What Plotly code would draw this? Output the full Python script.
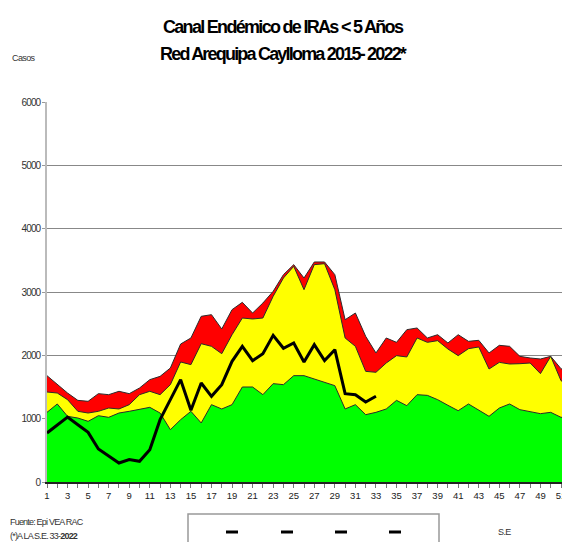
import plotly.graph_objects as go

weeks = list(range(1, 53))

# Upper limit of "success" zone (green)
green = [1100, 1232, 1037, 1010, 958, 1047, 1021, 1089, 1116, 1153,
         1179, 1089, 826, 984, 1116, 932, 1221, 1153, 1221, 1500,
         1500, 1379, 1553, 1537, 1679, 1679, 1626, 1563, 1521, 1153,
         1221, 1063, 1100, 1153, 1289, 1205, 1379, 1368, 1300, 1211,
         1126, 1232, 1132, 1037, 1168, 1232, 1142, 1105, 1079, 1100,
         1021, 1021]
# Upper limit of "security" zone (yellow)
yellow = [1421, 1405, 1300, 1116, 1089, 1116, 1168, 1153, 1221, 1379,
          1432, 1379, 1537, 1895, 1853, 2184, 2142, 2026, 2326, 2589,
          2574, 2589, 2932, 3221, 3405, 3037, 3432, 3447, 3037, 2274,
          2142, 1747, 1732, 1879, 1995, 1974, 2274, 2205, 2232, 2100,
          1995, 2105, 2132, 1784, 1889, 1863, 1868, 1879, 1711, 1984,
          1600, 1511]
# Upper limit of "alarm" zone (red)
red = [1679, 1537, 1405, 1289, 1274, 1395, 1379, 1432, 1395, 1484,
       1616, 1668, 1800, 2179, 2274, 2616, 2642, 2416, 2721, 2837,
       2668, 2826, 3011, 3274, 3432, 3221, 3474, 3474, 3274, 2563,
       2668, 2300, 2037, 2274, 2205, 2405, 2432, 2274, 2326, 2195,
       2326, 2221, 2237, 2037, 2158, 2142, 1984, 1958, 1942, 1984,
       1789, 1705]
# Cases 2022 up to epidemiological week 33
weeks_2022 = list(range(1, 34))
cases_2022 = [774, 895, 1026, 905, 784, 521, 405, 300, 353, 326,
              510, 984, 1300, 1616, 1132, 1563, 1353, 1537, 1905, 2142,
              1916, 2026, 2316, 2111, 2195, 1895, 2168, 1916, 2089, 1395,
              1379, 1263, 1353]

title_lines = ["Canal Endémico de IRAs < 5 Años", "Red Arequipa Caylloma 2015- 2022*"]
y_ticks = [0, 1000, 2000, 3000, 4000, 5000, 6000]
x_ticks = list(range(1, 52, 2))

FONT = "Liberation Sans, Arial, sans-serif"
edge = "#2b2b2b"


def narrow(txt, ls):
    return '<span style="letter-spacing:%spx">%s</span>' % (ls, txt)


fig = go.Figure()
fig.add_trace(go.Scatter(x=weeks, y=red, mode="lines", fill="tozeroy",
                         fillcolor="#FF0000", line=dict(color=edge, width=1),
                         name="Alarma", hoverinfo="skip"))
fig.add_trace(go.Scatter(x=weeks, y=yellow, mode="lines", fill="tozeroy",
                         fillcolor="#FFFF00", line=dict(color=edge, width=1),
                         name="Seguridad", hoverinfo="skip"))
fig.add_trace(go.Scatter(x=weeks, y=green, mode="lines", fill="tozeroy",
                         fillcolor="#00FF00", line=dict(color=edge, width=1),
                         name="Éxito", hoverinfo="skip"))
fig.add_trace(go.Scatter(x=weeks_2022, y=cases_2022, mode="lines",
                         line=dict(color="black", width=3), name="2022"))

# page body has an 8px margin: figure is shifted by 8px right/down
PW, PH = 523, 380   # plot area in px
fig.update_layout(
    width=562, height=534,
    margin=dict(l=39, r=0, t=94, b=60),
    plot_bgcolor="white", paper_bgcolor="white",
    showlegend=False,
    font=dict(family=FONT, color="#333"),
)
fig.update_xaxes(
    range=[1, 1 + PW / 10.28], tickvals=x_ticks,
    ticktext=[str(v) for v in x_ticks],
    ticklabeloverflow="allow",
    ticks="outside", ticklen=4, tickcolor="#777", tickfont=dict(size=9.5, color="#222"),
    showline=True, linecolor="#222", linewidth=1.5, showgrid=False, zeroline=False,
    minor=dict(dtick=1, tick0=1, ticks="outside", ticklen=4, tickcolor="#777"),
)
fig.update_yaxes(
    range=[0, 6000], tickvals=y_ticks,
    ticktext=[narrow(str(v), -0.9) for v in y_ticks],
    ticks="outside", ticklen=3, tickcolor="#999", tickfont=dict(size=10, color="#333"),
    showline=True, linecolor="#bbb", linewidth=1.5,
    showgrid=True, gridcolor="#888", gridwidth=1, zeroline=False,
)


def px(x):
    return (x - 47) / PW


def py(y):
    return (482 - y) / PH


# Title
fig.add_annotation(text="<b>" + narrow(title_lines[0], -1.7) + "</b>", xref="paper", yref="paper",
                   x=px(283), y=py(27), xanchor="center", yanchor="middle", showarrow=False,
                   font=dict(family=FONT, size=18, color="black"))
fig.add_annotation(text="<b>" + narrow(title_lines[1], -1.8) + "</b>", xref="paper", yref="paper",
                   x=px(283), y=py(54), xanchor="center", yanchor="middle", showarrow=False,
                   font=dict(family=FONT, size=18, color="black"))
fig.add_annotation(text=narrow("Casos", -0.6), xref="paper", yref="paper",
                   x=px(10), y=py(58), xanchor="left", yanchor="middle", showarrow=False,
                   font=dict(family=FONT, size=9, color="#333"))
fig.add_annotation(text=narrow("Fuente: Epi VEA RAC", -0.8), xref="paper", yref="paper",
                   x=px(8), y=py(522), xanchor="left", yanchor="middle", showarrow=False,
                   font=dict(family=FONT, size=9, color="#333"))
fig.add_annotation(text=narrow("(*)A LA S.E. 33-<b>2022</b>", -0.8), xref="paper", yref="paper",
                   x=px(8), y=py(536), xanchor="left", yanchor="middle", showarrow=False,
                   font=dict(family=FONT, size=9, color="#333"))
fig.add_annotation(text=narrow("S.E", -0.6), xref="paper", yref="paper",
                   x=px(504), y=py(532), xanchor="center", yanchor="middle", showarrow=False,
                   font=dict(family=FONT, size=9, color="#333"))

# Legend box (cut off at bottom, as in the original)
fig.add_shape(type="rect", xref="paper", yref="paper",
              x0=px(188), x1=px(439), y0=py(560), y1=py(514),
              line=dict(color="#999", width=1.5), fillcolor="white")
for cx in [232, 287, 341, 395]:
    fig.add_shape(type="line", xref="paper", yref="paper",
                  x0=px(cx - 6), x1=px(cx + 6), y0=py(532), y1=py(532),
                  line=dict(color="black", width=3))

fig.write_html("out.html")
